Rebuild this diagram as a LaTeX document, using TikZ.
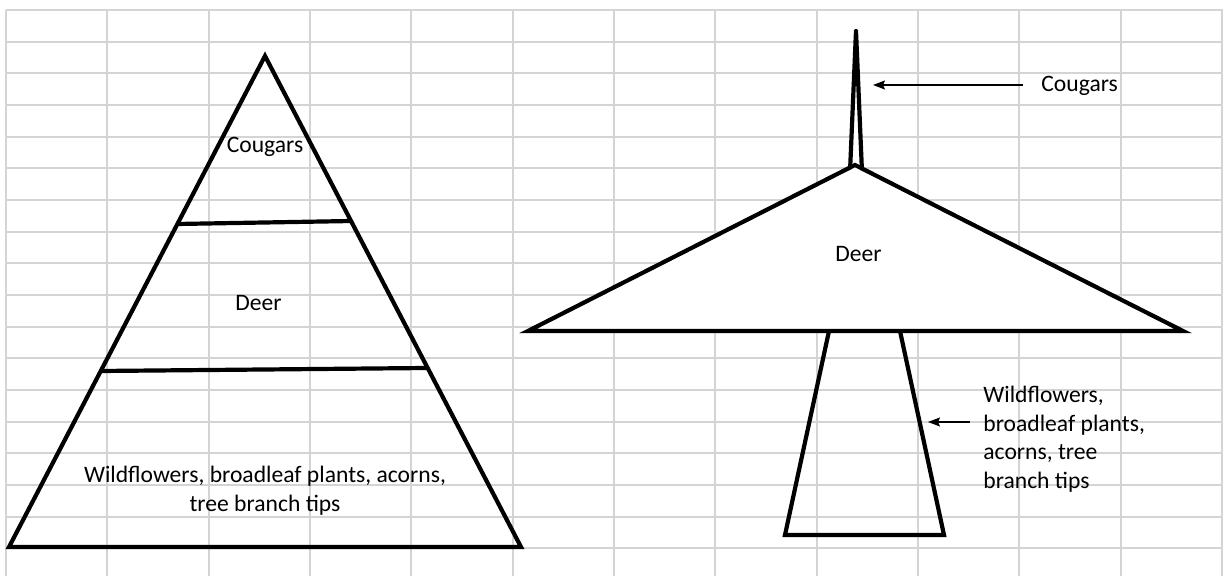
\documentclass[tikz,border=0pt]{standalone}
\usepackage{fontspec}
\setmainfont{Carlito}
\usetikzlibrary{arrows.meta}
\definecolor{gridgray}{RGB}{212,212,212}
\begin{document}
\begin{tikzpicture}[x=0.5pt,y=-0.5pt,
  gridline/.style={draw=gridgray, line width=0.9pt},
  outline/.style={draw=black, line width=2.1pt},
  lbl/.style={font=\fontsize{11.8pt}{14pt}\selectfont, inner sep=0pt, text=black},
  pointer/.style={draw=black, line width=0.65pt, -{Stealth[length=6pt,width=4.5pt,inset=1pt]}}
]
\useasboundingbox (0,0) rectangle (1223,576);
\fill[white] (0,0) rectangle (1223,576);
% spreadsheet grid
\foreach \i in {0,...,12} \draw[gridline] ({6+101.333*\i},10) -- ({6+101.333*\i},576);
\foreach \j in {0,...,17} \draw[gridline] (6,{10+31.667*\j}) -- (1223,{10+31.667*\j});

% ---- left pyramid ----
\coordinate (LA) at (265,56);
\coordinate (LB) at (9,547);
\coordinate (LC) at (521,547);
\draw[outline] (LA) -- (LB) -- (LC) -- cycle;
\coordinate (U1) at (177,224); \coordinate (U2) at (352,221);
\coordinate (W1) at (101,371); \coordinate (W2) at (427,368);
\draw[outline] (U1) -- (U2);
\draw[outline] (W1) -- (W2);
\node[lbl, anchor=base] (lcoug) at (265,153) {Cougars};
\node[lbl, anchor=base] (ldeer) at (258.5,310.7) {Deer};
\node[lbl, anchor=base] (lwild1) at (265,483) {Wildflowers, broadleaf plants, acorns,};
\node[lbl, anchor=base] (lwild2) at (265,512) {tree branch tips};

% ---- right inverted pyramid ----
\coordinate (SA) at (856,31);
\coordinate (SB) at (850,172);
\coordinate (SC) at (862,172);
\fill[white] (SA) -- (SB) -- (SC) -- cycle;
\draw[outline, line join=round] (SB) -- (SA) -- (SC);
\coordinate (DA) at (855,165);
\coordinate (DB) at (528,331);
\coordinate (DC) at (1183,331);
\draw[outline, fill=white] (DA) -- (DB) -- (DC) -- cycle;
\coordinate (TA) at (829,331);
\coordinate (TB) at (785,535);
\coordinate (TC) at (944,535);
\coordinate (TD) at (900,331);
\draw[outline] (TA) -- (TB) -- (TC) -- (TD);

\node[lbl, anchor=base] (rdeer) at (858.5,262) {Deer};
\node[lbl, anchor=base west] (rcoug) at (1041,91.5) {Cougars};
\node[lbl, anchor=base west] (rw1) at (983,403) {Wildflowers,};
\node[lbl, anchor=base west] (rw2) at (983,431.5) {broadleaf plants,};
\node[lbl, anchor=base west] (rw3) at (983,460) {acorns, tree};
\node[lbl, anchor=base west] (rw4) at (983,488.5) {branch tips};

\coordinate (cstart) at (1023,85);
\coordinate (ctip) at (873,85);
\draw[pointer] (cstart) -- (ctip);
\coordinate (wstart) at (970,422);
\coordinate (wtip) at (928,422);
\draw[pointer] (wstart) -- (wtip);
\end{tikzpicture}
\end{document}
